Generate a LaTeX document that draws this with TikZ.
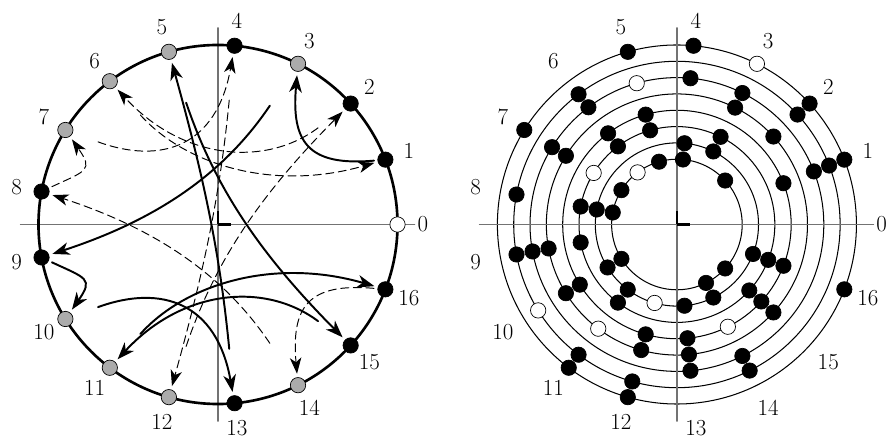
\documentclass[tikz,border=0pt]{standalone}
\usetikzlibrary{arrows.meta}
\begin{document}
\begin{tikzpicture}[x=0.5cm, y=0.5cm, line cap=round, line join=round,
  resdot/.style={circle, draw=black, line width=0.6pt, fill=#1, minimum size=0.47cm, inner sep=0pt},
  orbitlabel/.style={font=\fontsize{20}{23}\selectfont, inner sep=0pt},
  axisline/.style={draw=\axisColor, line width=\axisLineWidth},
  unittick/.style={draw=black, line width=1.8pt, line cap=butt},
  mapsolid/.style={line width=1.7pt, -{Stealth[length=15pt, width=11pt, inset=4.5pt]}, shorten >=3pt},
  mapdashed/.style={line width=0.85pt, dash pattern=on 7pt off 4pt, -{Stealth[length=14pt, width=10pt, inset=4pt]}, shorten >=3pt}]
% Orbits of x -> 3x on Z/17
\def\rcx{28.12}
\def\labrad{12.55}
\providecommand{\axisColor}{black!55}
\providecommand{\axisLineWidth}{1.1pt}
\providecommand{\nonresColor}{black!33}
\useasboundingbox (-13.358,-13.205) rectangle (41.115,13.756);
% Left: axes and circle
\draw[axisline] (-12.1,0) -- (12.05,0);
\draw[axisline] (0,-12.05) -- (0,12.05);
\draw[unittick] (0,0) -- (0.82,0);
\draw[unittick] (0,0) -- (0,0.82);
\draw[line width=2.3pt] (0,0) circle (11);
% Points, residues black and non-residues grey
\foreach \k/\c in {0/white, 1/black, 2/black, 3/\nonresColor, 4/black, 5/\nonresColor,
  6/\nonresColor, 7/\nonresColor, 8/black, 9/black, 10/\nonresColor, 11/\nonresColor,
  12/\nonresColor, 13/black, 14/\nonresColor, 15/black, 16/black}
  \node[resdot=\c] (p\k) at ({\k*360/17}:11) {};
\foreach \k in {0,...,16}
  \node[orbitlabel] (la\k) at ({\k*360/17}:\labrad) {\k};
% Solid arcs
\draw[mapsolid, shorten <=3pt] (p1) to[out=185, in=-95, looseness=1.5] (p3);
\draw[mapsolid, shorten <=1.3cm] (p3) to[bend left=19] (p9);
\draw[mapsolid, shorten <=3pt] (p9) to[out=-25, in=55, looseness=1.9] (p10);
\draw[mapsolid, shorten <=0.82cm] (p10) to[out=20, in=100, looseness=1.35] (p13);
\draw[mapsolid, shorten <=1.43cm] (p13) to[bend right=5] (p5);
\draw[mapsolid, shorten <=1.4cm] (p5) to[bend right=13] (p15);
\draw[mapsolid, shorten <=1cm] (p15) to[bend right=42, looseness=1.1] (p11);
\draw[mapsolid, shorten <=1.15cm] (p11) to[bend left=32] (p16);
% Dashed arcs (mirror images)
\draw[mapdashed, shorten <=3pt] (p16) to[out=175, in=95, looseness=1.5] (p14);
\draw[mapdashed, shorten <=1.3cm] (p14) to[bend right=19] (p8);
\draw[mapdashed, shorten <=3pt] (p8) to[out=25, in=-55, looseness=1.9] (p7);
\draw[mapdashed, shorten <=0.82cm] (p7) to[out=-20, in=-100, looseness=1.35] (p4);
\draw[mapdashed, shorten <=1.43cm] (p4) to[bend left=5] (p12);
\draw[mapdashed, shorten <=1.4cm] (p12) to[bend left=13] (p2);
\draw[mapdashed, shorten <=1cm] (p2) to[bend left=42, looseness=1.1] (p6);
\draw[mapdashed, shorten <=1.15cm] (p6) to[bend right=32] (p1);
% Right: shifted residue sets on rings
\begin{scope}[shift={(\rcx,0)}]
  \foreach \r in {4,...,11}
    \draw[line width=0.9pt] (0,0) circle (\r);
  \draw[axisline] (-12.1,0) -- (12.05,0);
  \draw[axisline] (0,-12.05) -- (0,12.05);
  \draw[unittick] (0,0) -- (0.82,0);
  \draw[unittick] (0,0) -- (0,0.82);
  \foreach \r/\idx/\w in {4/{2,4,5,7,8,10,14,15}/6, 5/{3,4,8,10,11,13,14,16}/12,
    6/{3,5,6,8,9,11,15,16}/7, 7/{1,5,6,10,12,13,15,16}/14, 8/{2,3,7,9,10,12,13,15}/11,
    9/{1,3,4,6,7,9,13,14}/5, 10/{1,2,6,8,9,11,12,14}/10, 11/{1,2,4,5,7,11,12,16}/3} {
    \foreach \k in \idx
      \node[resdot=black] (d\r-\k) at ({\k*360/17}:\r) {};
    \node[resdot=white] (d\r-\w) at ({\w*360/17}:\r) {};
  }
  \foreach \k in {0,...,16}
    \node[orbitlabel] (lb\k) at ({\k*360/17}:\labrad) {\k};
\end{scope}
\end{tikzpicture}
\end{document}
